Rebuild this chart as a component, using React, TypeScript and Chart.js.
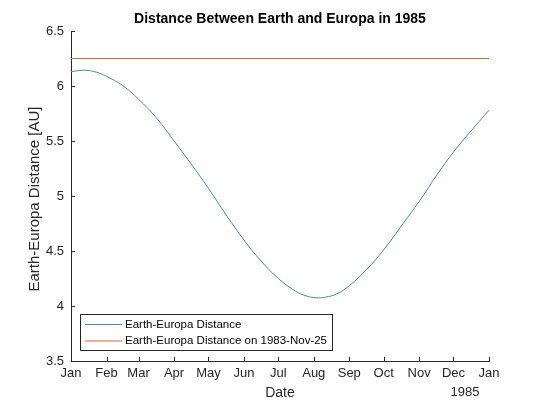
import { useEffect, useRef } from 'react';
import { Chart, registerables } from 'chart.js';

Chart.register(...registerables);

const monthDays = [0, 31, 59, 90, 120, 151, 181, 212, 243, 273, 304, 334, 365];
const monthLabels = ['Jan', 'Feb', 'Mar', 'Apr', 'May', 'Jun', 'Jul', 'Aug', 'Sep', 'Oct', 'Nov', 'Dec', 'Jan'];
const sampleDays = [0, 7, 14, 22, 31, 45, 59, 75, 90, 105, 120, 136, 151, 165, 181, 196, 206, 214, 222, 232, 243, 258, 273, 290, 304, 320, 334, 350, 365];
const distanceAU = [6.13, 6.14, 6.142, 6.126, 6.088, 6.005, 5.88, 5.705, 5.5, 5.29, 5.07, 4.82, 4.6, 4.42, 4.25, 4.135, 4.09, 4.075, 4.08, 4.11, 4.185, 4.33, 4.51, 4.75, 4.95, 5.2, 5.4, 5.6, 5.78];
const referenceDays = [0, 365];
const referenceAU = [6.25, 6.25];
const yTickValues = [3.5, 4, 4.5, 5, 5.5, 6, 6.5];
const seriesLabels = ['Earth-Europa Distance', 'Earth-Europa Distance on 1983-Nov-25'];
const titleText = 'Distance Between Earth and Europa in 1985';
const xTitle = 'Date';
const yTitle = 'Earth-Europa Distance [AU]';
const yearLabel = '1985';

const FONT = '"Liberation Sans", Arial, Helvetica, sans-serif';
const AXIS = '#262626';
const BLUE = '#4a89a6';
const RED = '#d9643c';

export default function App() {
  const ref = useRef<HTMLCanvasElement | null>(null);

  useEffect(() => {
    if (!ref.current) return;
    const deco = {
      id: 'deco',
      afterDraw(chart: any) {
        const ctx = chart.ctx as CanvasRenderingContext2D;
        const { left, right, top, bottom } = chart.chartArea;
        const xs = chart.scales.x;
        const ys = chart.scales.y;
        ctx.save();
        ctx.strokeStyle = AXIS;
        ctx.lineWidth = 1;
        ctx.beginPath();
        monthDays.forEach((d) => {
          const px = Math.round(xs.getPixelForValue(d)) + 0.5;
          ctx.moveTo(px, bottom);
          ctx.lineTo(px, bottom - 4);
        });
        yTickValues.forEach((v) => {
          const py = Math.round(ys.getPixelForValue(v)) + 0.5;
          ctx.moveTo(left, py);
          ctx.lineTo(left + 4, py);
        });
        ctx.stroke();

        // legend
        const lx = 80.5, ly = 314.5, lw = 252, lh = 36;
        ctx.fillStyle = '#ffffff';
        ctx.fillRect(lx, ly, lw, lh);
        ctx.strokeStyle = AXIS;
        ctx.strokeRect(lx, ly, lw, lh);
        const colors = [BLUE, RED];
        ctx.font = `11.5px ${FONT}`;
        ctx.textBaseline = 'middle';
        ctx.textAlign = 'left';
        seriesLabels.forEach((s, i) => {
          const yy = 324.5 + i * 16.5;
          ctx.strokeStyle = colors[i];
          ctx.beginPath();
          ctx.moveTo(85, yy);
          ctx.lineTo(122, yy);
          ctx.stroke();
          ctx.fillStyle = '#000000';
          ctx.fillText(s, 125, yy);
        });

        // title
        ctx.fillStyle = '#000000';
        ctx.font = `bold 14px ${FONT}`;
        ctx.textAlign = 'center';
        ctx.textBaseline = 'middle';
        ctx.fillText(titleText, (left + right) / 2, 19);

        // axis titles
        ctx.fillStyle = AXIS;
        ctx.font = `14px ${FONT}`;
        ctx.fillText(xTitle, (left + right) / 2, 393);
        ctx.font = `13px ${FONT}`;
        ctx.fillText(yearLabel, 465, 392);
        ctx.save();
        ctx.translate(35, 199);
        ctx.rotate(-Math.PI / 2);
        ctx.font = `15px ${FONT}`;
        ctx.fillText(yTitle, 0, 0);
        ctx.restore();
        ctx.restore();
      },
    };

    const chart = new Chart(ref.current, {
      type: 'line',
      data: {
        datasets: [
          {
            label: seriesLabels[0],
            data: sampleDays.map((d, i) => ({ x: d, y: distanceAU[i] })),
            borderColor: BLUE,
            borderWidth: 1,
            pointRadius: 0,
            tension: 0.4,
            fill: false,
          },
          {
            label: seriesLabels[1],
            data: referenceDays.map((d, i) => ({ x: d, y: referenceAU[i] })),
            borderColor: RED,
            borderWidth: 1,
            pointRadius: 0,
            fill: false,
          },
        ],
      },
      options: {
        animation: false,
        responsive: false,
        devicePixelRatio: 1,
        layout: { padding: { top: 31, right: 51, bottom: 0, left: 0 } },
        plugins: { legend: { display: false }, title: { display: false }, tooltip: { enabled: false } },
        scales: {
          x: {
            type: 'linear',
            min: 0,
            max: 365,
            afterFit: (s: any) => { s.height = 44; },
            afterBuildTicks: (s: any) => { s.ticks = monthDays.map((v) => ({ value: v })); },
            grid: { display: false, drawTicks: false, tickLength: 0 },
            border: { display: true, color: AXIS, width: 1 },
            ticks: {
              autoSkip: false,
              maxRotation: 0,
              padding: 5,
              color: AXIS,
              font: { family: FONT, size: 13 },
              callback: (v: any) => {
                const i = monthDays.indexOf(Number(v));
                return i >= 0 ? monthLabels[i] : '';
              },
            },
          },
          y: {
            type: 'linear',
            min: 3.5,
            max: 6.5,
            afterFit: (s: any) => { s.width = 71; },
            afterBuildTicks: (s: any) => { s.ticks = yTickValues.map((v) => ({ value: v })); },
            grid: { display: false, drawTicks: false, tickLength: 0 },
            border: { display: true, color: AXIS, width: 1 },
            ticks: {
              padding: 7,
              color: AXIS,
              font: { family: FONT, size: 13 },
              callback: (v: any) => String(v),
            },
          },
        },
      },
      plugins: [deco],
    });
    return () => chart.destroy();
  }, []);

  return (
    <div style={{ position: 'fixed', left: 0, top: 0, width: 540, height: 405, background: '#fff' }}>
      <canvas ref={ref} width={540} height={405} style={{ width: 540, height: 405 }} />
    </div>
  );
}
